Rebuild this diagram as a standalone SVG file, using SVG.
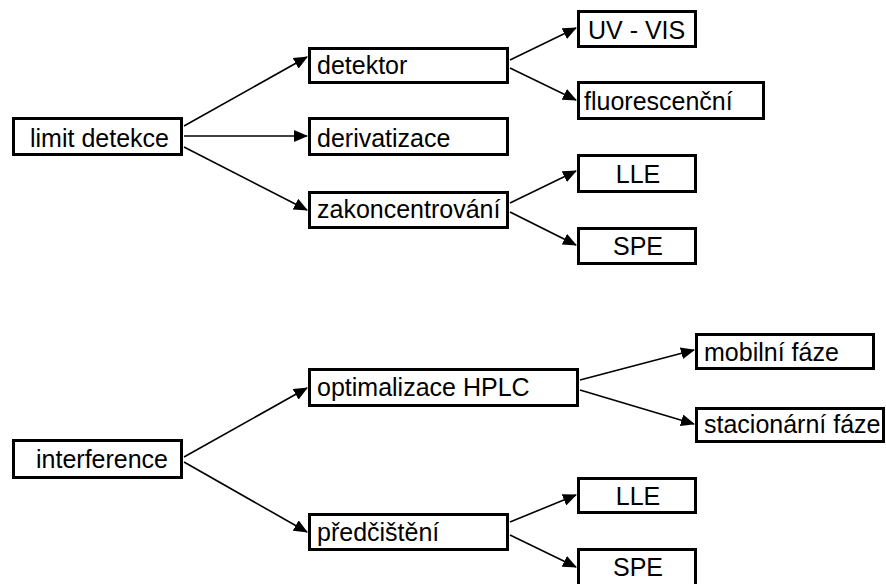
<svg xmlns="http://www.w3.org/2000/svg" width="886" height="584" viewBox="0 0 886 584">
<style>
.box{fill:#fff;stroke:#000;stroke-width:3}
.t{font-family:"Liberation Sans",Arial,sans-serif;font-size:25px;fill:#000}
.c{text-anchor:middle}
.ln{stroke:#000;stroke-width:1.6;fill:none;marker-end:url(#ah)}
</style>
<defs>
<marker id="ah" markerUnits="userSpaceOnUse" markerWidth="14" markerHeight="12" viewBox="0 0 14 12" refX="13" refY="6" orient="auto">
<path d="M0,0 L14,6 L0,12 Z" fill="#000"/>
</marker>
</defs>
<g id="connectors">
<line class="ln" x1="184" y1="126" x2="307" y2="57"/>
<line class="ln" x1="184" y1="136" x2="307" y2="136"/>
<line class="ln" x1="184" y1="147" x2="307" y2="210"/>
<line class="ln" x1="510" y1="60" x2="576" y2="28"/>
<line class="ln" x1="510" y1="68" x2="576" y2="100"/>
<line class="ln" x1="510" y1="203" x2="576" y2="171"/>
<line class="ln" x1="510" y1="212" x2="576" y2="245"/>
<line class="ln" x1="184" y1="457" x2="307" y2="388"/>
<line class="ln" x1="184" y1="462" x2="307" y2="532"/>
<line class="ln" x1="580" y1="380" x2="694" y2="350"/>
<line class="ln" x1="580" y1="390" x2="694" y2="424"/>
<line class="ln" x1="510" y1="522" x2="576" y2="495"/>
<line class="ln" x1="510" y1="535" x2="576" y2="567"/>
</g>
<g id="n-limit"><rect class="box" x="13.5" y="118.5" width="168" height="36"/><text class="t" x="30" y="147">limit detekce</text></g>
<g id="n-detektor"><rect class="box" x="309.5" y="48.5" width="198" height="34"/><text class="t" x="317" y="74">detektor</text></g>
<g id="n-derivatizace"><rect class="box" x="309.5" y="118.5" width="198" height="36"/><text class="t" x="317" y="147">derivatizace</text></g>
<g id="n-zakoncentrovani"><rect class="box" x="309.5" y="192.5" width="198" height="35"/><text class="t" x="317" y="218">zakoncentrování</text></g>
<g id="n-uvvis"><rect class="box" x="578.5" y="11.5" width="117" height="35"/><text class="t" x="588" y="39">UV - VIS</text></g>
<g id="n-fluorescencni"><rect class="box" x="578.5" y="82.5" width="185" height="36"/><text class="t" x="584" y="110">fluorescenční</text></g>
<g id="n-lle1"><rect class="box" x="578.5" y="155.5" width="117" height="36"/><text class="t c" x="638" y="183">LLE</text></g>
<g id="n-spe1"><rect class="box" x="578.5" y="228.5" width="117" height="35"/><text class="t c" x="638" y="255">SPE</text></g>
<g id="n-interference"><rect class="box" x="13.5" y="440.5" width="168" height="37"/><text class="t" x="36" y="468">interference</text></g>
<g id="n-optimalizace"><rect class="box" x="309.5" y="369.5" width="268" height="36"/><text class="t" x="317" y="396">optimalizace HPLC</text></g>
<g id="n-predcisteni"><rect class="box" x="309.5" y="514.5" width="198" height="35"/><text class="t" x="317" y="541">předčištění</text></g>
<g id="n-mobilni"><rect class="box" x="696.5" y="334.5" width="177" height="34"/><text class="t" x="704" y="361">mobilní fáze</text></g>
<g id="n-stacionarni"><rect class="box" x="696.5" y="408.5" width="187" height="33"/><text class="t" x="704" y="433">stacionární fáze</text></g>
<g id="n-lle2"><rect class="box" x="578.5" y="478.5" width="117" height="34"/><text class="t c" x="638" y="505">LLE</text></g>
<g id="n-spe2"><rect class="box" x="578.5" y="549.5" width="117" height="36"/><text class="t c" x="638" y="576">SPE</text></g>
</svg>
